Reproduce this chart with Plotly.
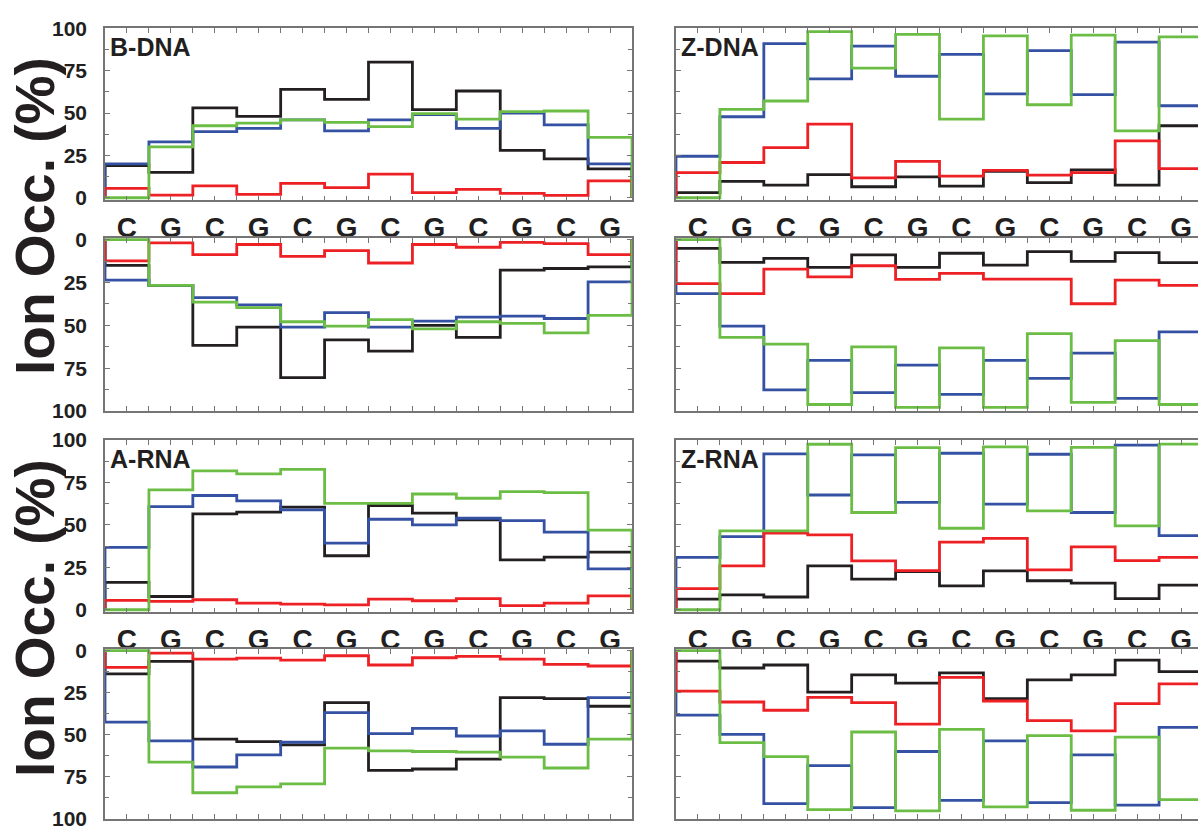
import plotly.graph_objects as go

categories = ["C", "G", "C", "G", "C", "G", "C", "G", "C", "G", "C", "G"]
y_ticks = [0, 25, 50, 75, 100]
y_ticktext = ["0", "25", "50", "75", "100"]

# B-DNA (upper, normal axis)
bdna_black = [19, 15, 53, 48, 64, 58, 80, 52, 63, 28, 23, 17]
bdna_blue = [20, 33, 39, 41, 46, 39.5, 46, 49, 41, 50, 43, 20]
bdna_red = [5.5, 1.6, 7, 2, 8.5, 6, 14, 3, 5, 2.6, 1.4, 10]
bdna_green = [0, 30, 42.5, 44, 46, 44.5, 42, 49.6, 46.4, 50.8, 51.2, 35.6]
# B-DNA (lower, inverted axis)
bdna2_black = [15, 26.6, 61.7, 51, 80.5, 58.5, 65, 50, 57, 17.7, 16.8, 15.8]
bdna2_blue = [23.6, 26.6, 33.8, 38, 51, 42.6, 51, 47.5, 45.2, 44.6, 46, 24.6]
bdna2_red = [12.3, 1.9, 8.7, 2.8, 9.7, 6.4, 13.6, 2.8, 4.4, 1.5, 2.3, 8.7]
bdna2_green = [0, 26.6, 36.4, 39.7, 47.9, 50.5, 46.6, 52, 47.9, 48.9, 54.4, 44.2]

# Z-DNA
zdna_black = [3, 9.7, 7.5, 13.6, 6.5, 12.3, 6.9, 15.6, 8.9, 16.4, 7.5, 42.5]
zdna_blue = [24.5, 47.8, 90.9, 70.2, 89.5, 71.7, 84.6, 61.3, 86.8, 60.9, 91.9, 54.3]
zdna_red = [14.8, 20.8, 29.6, 43.5, 11.7, 21.5, 12.8, 16.2, 13.4, 14.8, 33.6, 17.2]
zdna_green = [0, 52.2, 57.1, 98, 76.5, 96.4, 46.4, 95.5, 54.9, 96, 39.5, 94.9]
zdna2_black = [5, 13.2, 10.9, 16.2, 8.9, 16.2, 7.9, 14.8, 7, 12.6, 7.5, 13.4]
zdna2_blue = [31.5, 50.5, 87.7, 70.5, 89.3, 73.2, 90.3, 70.5, 80.9, 66.2, 92.6, 53.8]
zdna2_red = [25.6, 31.5, 17.2, 21.7, 15.2, 23.2, 19.7, 23, 23, 37.4, 23.6, 26.6]
zdna2_green = [0, 57, 60.9, 96.2, 62.6, 97.9, 63.2, 97.9, 54.8, 95, 58.9, 96.2]

# A-RNA
arna_black = [16.1, 7.8, 56.5, 57.5, 60.4, 31.8, 61.4, 56.9, 52.9, 29.4, 31, 33.9]
arna_blue = [36.7, 60.8, 67.3, 64.1, 58.8, 39.2, 53.3, 50, 53.9, 52.5, 45.7, 24.1]
arna_red = [5.5, 4.9, 5.9, 3.9, 3.3, 2.9, 6.3, 5.3, 6.5, 2.4, 3.9, 8.2]
arna_green = [0, 70.6, 81.8, 80, 82.7, 62.7, 62.7, 68.2, 65.7, 69.6, 69, 46.9]
arna2_black = [13.8, 6.4, 52.5, 54, 56, 30.9, 71.1, 70.3, 64.4, 27.9, 28.5, 33]
arna2_blue = [42.5, 53.6, 69.1, 61.9, 54.4, 36.8, 49.3, 46.2, 50.7, 47.7, 55.6, 27.9]
arna2_red = [9.9, 1.5, 5, 4.4, 5.6, 3, 8.5, 4.2, 3.4, 5, 8.1, 9.1]
arna2_green = [0, 66.2, 84.4, 80.9, 79.1, 57.9, 59.5, 59.9, 60.3, 63.2, 69.7, 52.6]

# Z-RNA
zrna_black = [6.3, 8.8, 7.5, 25.9, 18, 22.5, 14.1, 22.9, 17.1, 15.7, 6.5, 14.5]
zrna_blue = [30.8, 43.1, 91.8, 67.6, 91.2, 63.3, 92.2, 62.2, 91.6, 57.3, 97, 43.7]
zrna_red = [12.4, 25.9, 45.1, 44.1, 28.8, 23.1, 39.8, 42, 23.5, 37.1, 29, 30.8]
zrna_green = [0, 46.5, 46.5, 97.5, 57.3, 95.5, 48, 95.9, 58.2, 95.7, 49.4, 97.6]
zrna2_black = [6.2, 10.3, 8.5, 24.6, 14.4, 19.3, 13.2, 28.5, 17.4, 14.4, 5.6, 12.5]
zrna2_blue = [38.3, 49.7, 90.9, 68.3, 93.2, 59.9, 88.9, 53.6, 90.3, 61.9, 91.7, 45.6]
zrna2_red = [24, 30.5, 35.4, 27.7, 30.9, 43.6, 15.8, 29.9, 41.5, 47.7, 31.5, 19.7]
zrna2_green = [0, 54.6, 63, 94.4, 48.3, 95.2, 46.8, 92.8, 50.5, 94.8, 51.3, 88.5]

panel_labels = ["B-DNA", "Z-DNA", "", "", "A-RNA", "Z-RNA", "", ""]

panels = [
    [bdna_black, bdna_blue, bdna_red, bdna_green],
    [zdna_black, zdna_blue, zdna_red, zdna_green],
    [bdna2_black, bdna2_blue, bdna2_red, bdna2_green],
    [zdna2_black, zdna2_blue, zdna2_red, zdna2_green],
    [arna_black, arna_blue, arna_red, arna_green],
    [zrna_black, zrna_blue, zrna_red, zrna_green],
    [arna2_black, arna2_blue, arna2_red, arna2_green],
    [zrna2_black, zrna2_blue, zrna2_red, zrna2_green],
]
colors = ["#231f20", "#3451a3", "#ed2024", "#6cbd45"]

W, H = 1198, 829
col_px = [(105, 632), (676, 1198)]
row_px = [(28.3, 200.3), (238, 411), (440, 612.3), (649, 819)]
cat_w = (632 - 105) / 12.0
FONT = "Liberation Sans, Arial, Helvetica, sans-serif"

fig = go.Figure()
n_cat = len(categories)
xb = [0.5] + [i + 0.5 for i in range(n_cat)] + [n_cat + 0.5, n_cat + 0.5]

for p, series in enumerate(panels):
    idx = p + 1
    xa = "x" if idx == 1 else f"x{idx}"
    ya = "y" if idx == 1 else f"y{idx}"
    for s, vals in enumerate(series):
        yy = [0] + list(vals) + [vals[-1], 0]
        fig.add_trace(go.Scatter(
            x=xb, y=yy, mode="lines", line=dict(color=colors[s], width=2.8, shape="hv"),
            xaxis=xa, yaxis=ya, showlegend=False, hoverinfo="skip"))

axis_color = "#757575"
for p in range(8):
    idx = p + 1
    row, col = p // 2, p % 2
    x0, x1 = col_px[col]
    top, bot = row_px[row]
    inverted = row in (1, 3)
    xr = [0.5, 0.5 + (x1 - x0) / cat_w]
    xkey = "xaxis" if idx == 1 else f"xaxis{idx}"
    ykey = "yaxis" if idx == 1 else f"yaxis{idx}"
    ax_anchor = "y" if idx == 1 else f"y{idx}"
    ay_anchor = "x" if idx == 1 else f"x{idx}"
    fig.layout[xkey] = dict(
        domain=[x0 / W, x1 / W], range=xr, anchor=ax_anchor, automargin=False,
        showline=True, linecolor=axis_color, linewidth=1.5, mirror="ticks",
        ticks="inside", ticklen=5, tickcolor=axis_color, tickwidth=1.2,
        tickvals=list(range(1, n_cat + 1)), ticktext=categories,
        showticklabels=not inverted, ticklabelstandoff=1, ticklabeloverflow="allow",
        tickfont=dict(family=FONT, size=28, color="#231f20", weight="bold"),
        minor=dict(tick0=0.5, dtick=1, ticks="inside", ticklen=5, tickcolor=axis_color, tickwidth=1.2),
        showgrid=False, zeroline=False, fixedrange=True,
    )
    fig.layout[ykey] = dict(
        domain=[1 - bot / H, 1 - top / H], automargin=False,
        range=[100, -1] if inverted else [-1.5, 100], anchor=ay_anchor,
        showline=True, linecolor=axis_color, linewidth=1.5,
        mirror="ticks" if col == 0 else False,
        ticks="inside", ticklen=5, tickcolor=axis_color, tickwidth=1.2,
        tickvals=y_ticks, ticktext=y_ticktext,
        showticklabels=(col == 0), ticklabelstandoff=12, ticklabeloverflow="allow",
        tickfont=dict(family=FONT, size=21, color="#231f20", weight="bold"),
        minor=dict(dtick=12.5, ticks="inside", ticklen=4, tickcolor=axis_color, tickwidth=1.2),
        showgrid=False, zeroline=False, fixedrange=True,
    )
    if panel_labels[p]:
        fig.add_annotation(
            text=panel_labels[p], xref="paper", yref="paper",
            x=(x0 + 3) / W, y=1 - (top + 19) / H, xanchor="left", yanchor="middle",
            showarrow=False,
            font=dict(family=FONT, size=25, color="#231f20", weight="bold"))

for yc in (216, 618):
    fig.add_annotation(
        text="Ion Occ. (%)", xref="paper", yref="paper", x=35 / W, y=1 - yc / H,
        xanchor="center", yanchor="middle", textangle=-90, showarrow=False,
        font=dict(family=FONT, size=55, color="#231f20", weight="bold"))

fig.update_layout(
    template="none",
    width=W, height=H, margin=dict(l=0, r=0, t=0, b=0, pad=0, autoexpand=False),
    paper_bgcolor="white", plot_bgcolor="white",
)
fig.write_html("out.html", config={"displayModeBar": False},
               post_script="document.body.style.margin='0';document.body.style.overflow='hidden';")
